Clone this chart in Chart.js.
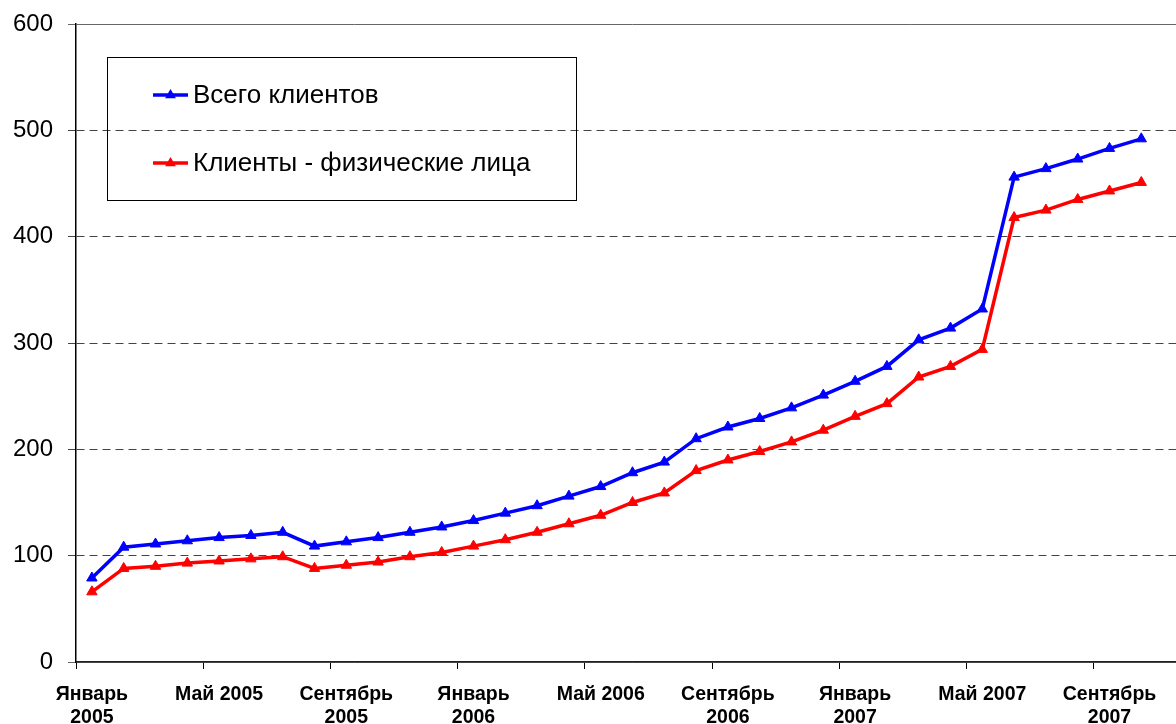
<!DOCTYPE html>
<html><head><meta charset="utf-8">
<script src="https://cdn.jsdelivr.net/npm/chart.js@4"></script>
<style>
html,body{margin:0;padding:0;overflow:hidden;background:#fff;width:1176px;height:724px}
#wrap{position:absolute;left:0;top:0;width:1196px;height:724px}
</style></head><body>
<div id="wrap"><canvas id="c" width="1196" height="724"></canvas></div>
<script>
const categories = [
 'Январь 2005','Февраль 2005','Март 2005','Апрель 2005','Май 2005','Июнь 2005','Июль 2005','Август 2005','Сентябрь 2005','Октябрь 2005','Ноябрь 2005','Декабрь 2005',
 'Январь 2006','Февраль 2006','Март 2006','Апрель 2006','Май 2006','Июнь 2006','Июль 2006','Август 2006','Сентябрь 2006','Октябрь 2006','Ноябрь 2006','Декабрь 2006',
 'Январь 2007','Февраль 2007','Март 2007','Апрель 2007','Май 2007','Июнь 2007','Июль 2007','Август 2007','Сентябрь 2007','Октябрь 2007','Ноябрь 2007'
];
const totalClients = [79,108,111,114,117,119,122,109,113,117,122,127,133,140,147,156,165,178,188,210,221,229,239,251,264,278,303,314,332,456,464,473,483,492];
const individualClients = [66,88,90,93,95,97,99,88,91,94,99,103,109,115,122,130,138,150,159,180,190,198,207,218,231,243,268,278,294,418,425,435,443,451];
const seriesNames = ['Всего клиентов','Клиенты - физические лица'];
const axisLabels = [['Январь','2005'],['Май 2005'],['Сентябрь','2005'],['Январь','2006'],['Май 2006'],['Сентябрь','2006'],['Январь','2007'],['Май 2007'],['Сентябрь','2007']];
const yMin = 0, yMax = 600, yStep = 100;

const legendBox = {
  id: 'legendBox',
  afterDraw(chart) {
    const ctx = chart.ctx;
    ctx.save();
    ctx.strokeStyle = '#000';
    ctx.lineWidth = 1;
    ctx.strokeRect(107.5, 57.5, 469, 143);
    const ys = [95, 163];
    chart.data.datasets.forEach((ds, i) => {
      const y = ys[i];
      ctx.strokeStyle = ds.borderColor;
      ctx.lineWidth = 3.5;
      ctx.beginPath(); ctx.moveTo(153, y); ctx.lineTo(188, y); ctx.stroke();
      ctx.fillStyle = ds.borderColor;
      ctx.beginPath();
      const r = 6;
      ctx.moveTo(170.5, y - r); ctx.lineTo(170.5 + r*0.9, y + r*0.55); ctx.lineTo(170.5 - r*0.9, y + r*0.55); ctx.closePath(); ctx.fill();
      ctx.fillStyle = '#000';
      ctx.font = '26px "Liberation Sans", Arial, sans-serif';
      ctx.textBaseline = 'middle';
      ctx.textAlign = 'left';
      ctx.fillText(ds.label, 193, y + 1);
    });
    ctx.restore();
  }
};

new Chart(document.getElementById('c'), {
  type: 'line',
  data: {
    labels: categories,
    datasets: [
      {label: seriesNames[0], data: totalClients, borderColor: '#0000FF', backgroundColor: '#0000FF',
       pointBackgroundColor: '#0000FF', pointBorderColor: '#0000FF', borderWidth: 3.5, pointStyle: 'triangle', pointRadius: 6, pointBorderWidth: 1, tension: 0},
      {label: seriesNames[1], data: individualClients, borderColor: '#FF0000', backgroundColor: '#FF0000',
       pointBackgroundColor: '#FF0000', pointBorderColor: '#FF0000', borderWidth: 3.5, pointStyle: 'triangle', pointRadius: 6, pointBorderWidth: 1, tension: 0}
    ]
  },
  options: {
    responsive: false,
    animation: false,
    devicePixelRatio: 1,
    layout: {padding: {top: 24, right: 0, bottom: 0, left: 0}},
    plugins: {legend: {display: false}, tooltip: {enabled: false}, title: {display: false}},
    scales: {
      x: {
        type: 'category',
        offset: true,
        afterFit(s) { s.height = 62; },
        grid: {
          offset: true,
          drawOnChartArea: false,
          tickLength: 7,
          lineWidth: 1,
          color: (c) => (c.index % 4 === 0 ? '#000' : 'rgba(0,0,0,0)')
        },
        border: {display: true, color: '#222', width: 1.5},
        ticks: {
          autoSkip: false, maxRotation: 0, minRotation: 0, padding: 14,
          color: '#000',
          font: {family: '"Liberation Sans", Arial, sans-serif', size: 19.5, weight: 'bold', lineHeight: 1.2},
          callback: (v, i) => (i % 4 === 0 && axisLabels[i / 4]) ? axisLabels[i / 4] : ''
        }
      },
      y: {
        min: yMin, max: yMax,
        afterFit(s) { s.width = 76; s.paddingTop = 0; s.paddingBottom = 0; },
        grid: {
          tickLength: 8,
          lineWidth: 1,
          color: (c) => (c.tick && (c.tick.value === 0 || c.tick.value === 600) ? '#666' : '#444')
        },
        border: {
          display: true, color: '#000', width: 1.5,
          dash: (c) => (c.tick && c.tick.value !== 600 && c.tick.value !== 0 ? [8, 5] : [])
        },
        ticks: {
          stepSize: yStep, padding: 15, color: '#000',
          font: {family: '"Liberation Sans", Arial, sans-serif', size: 24}
        }
      }
    }
  },
  plugins: [legendBox]
});
</script>
</body></html>
